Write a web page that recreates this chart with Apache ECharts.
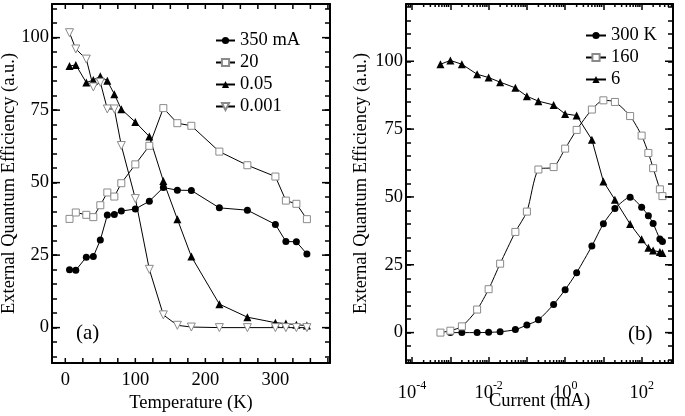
<!DOCTYPE html>
<html><head><meta charset="utf-8">
<script src="https://cdn.jsdelivr.net/npm/echarts@6/dist/echarts.min.js"></script>
<style>html,body{margin:0;padding:0;background:#fff}#c{width:685px;height:416px}</style>
</head><body><div id="c"></div>
<script>
// ---- Panel (a): EQE vs temperature ----
const temperature = [6, 15, 30, 40, 50, 60, 70, 80, 100, 120, 140, 160, 180, 220, 260, 300, 315, 330, 345];
const eqe350mA = [20.0, 19.8, 24.3, 24.5, 30.2, 38.8, 39.0, 40.2, 40.9, 43.6, 48.3, 47.4, 47.3, 41.3, 40.5, 35.6, 29.7, 29.6, 25.4];
const eqe20mA = [37.5, 39.7, 38.9, 38.1, 42.2, 46.6, 45.2, 49.8, 56.3, 62.7, 75.7, 70.5, 69.6, 60.7, 56.0, 52.1, 43.8, 42.7, 37.4];
const eqe005mA = [90.2, 90.6, 84.5, 85.4, 86.7, 85.1, 80.5, 75.3, 70.9, 65.9, 50.6, 37.4, 24.5, 8.1, 3.6, 1.7, 1.4, 1.0, 0.7];
const eqe0001mA = [101.7, 96.1, 92.6, 83.0, 84.6, 75.4, 75.4, 62.8, 44.5, 20.1, 4.4, 0.8, 0.2, 0, 0, 0, 0, 0, 0];
const seriesNamesA = ['350 mA', '20', '0.05', '0.001'];

// ---- Panel (b): EQE vs current ----
const currents = [0.00055, 0.001, 0.002, 0.005, 0.01, 0.02, 0.05, 0.1, 0.2, 0.5, 1, 2, 5, 10, 20, 50, 100, 150, 200, 300, 350];
const eqe300K = [0, 0, 0, 0.1, 0.3, 1.1, 2.8, 4.7, 10.4, 15.8, 22.1, 31.9, 40.1, 45.7, 49.9, 46.2, 43.1, 40.2, 34.5, 33.6]; // starts at currents[1]
const eqe160K = [0, 0.7, 2.3, 8.5, 16.0, 25.4, 37.1, 44.6, 60.1, 61.0, 67.8, 74.7, 82.2, 85.6, 85.0, 79.8, 72.6, 66.2, 60.6, 52.8, 50.3];
const eqe6K = [98.9, 100.3, 98.9, 95.2, 94.0, 92.3, 90.2, 87.1, 85.3, 83.9, 80.6, 80.0, 71.1, 55.7, 49.0, 40.0, 34.4, 31.3, 30.3, 29.7, 29.3];
const seriesNamesB = ['300 K', '160', '6'];

// ---- tick positions ----
const tempTicks = [0, 25, 50, 75, 100, 125, 150, 175, 200, 225, 250, 275, 300, 325, 350, 375];
const eqeMajorTicks = [0, 25, 50, 75, 100];
const logMinorTicks = [];
for (let k = -5; k <= 2; k++) for (let m = 2; m <= 9; m++) logMinorTicks.push(m * Math.pow(10, k));

const FONT = '"Liberation Serif", "Times New Roman", Times, "DejaVu Serif", serif';
const LOGMIN = Math.pow(10, -4.16), LOGMAX = Math.pow(10, 2.82);

function pair(xs, ys) { return ys.map((v, i) => [xs[i], v]); }

function vTicks(len) {
  return function (params, api) {
    const cs = params.coordSys;
    const x = api.coord([api.value(0), api.value(1)])[0];
    if (x < cs.x + 1 || x > cs.x + cs.width - 1) return null;
    const b = cs.y + cs.height;
    return { type: 'group', children: [
      { type: 'line', shape: { x1: x, y1: b, x2: x, y2: b - len }, style: { stroke: '#000', lineWidth: 1.5 } },
      { type: 'line', shape: { x1: x, y1: cs.y, x2: x, y2: cs.y + len }, style: { stroke: '#000', lineWidth: 1.5 } }
    ] };
  };
}
function hTicks(len) {
  return function (params, api) {
    const cs = params.coordSys;
    const y = api.coord([api.value(0), api.value(1)])[1];
    const r = cs.x + cs.width;
    return { type: 'group', children: [
      { type: 'line', shape: { x1: cs.x, y1: y, x2: cs.x + len, y2: y }, style: { stroke: '#000', lineWidth: 1.5 } },
      { type: 'line', shape: { x1: r, y1: y, x2: r - len, y2: y }, style: { stroke: '#000', lineWidth: 1.5 } }
    ] };
  };
}

const frameLine = { show: true, onZero: false, lineStyle: { color: '#000', width: 2 } };
const lbl = { fontFamily: FONT, fontSize: 18.5, color: '#000' };
const titleStyle = { fontFamily: FONT, fontSize: 18.5, color: '#000' };

function yAxisDef(grid, min, max, pos, showLabels, name) {
  return {
    type: 'value', gridIndex: grid, min: min, max: max, splitNumber: 25, position: pos,
    axisLine: frameLine,
    axisTick: { show: true, inside: true, length: 5, lineStyle: { color: '#000', width: 1.5 } },
    splitLine: { show: false },
    axisLabel: showLabels ? Object.assign({ margin: 3, formatter: v => (Math.abs(v % 25) < 1e-6 ? String(Math.round(v)) : '') }, lbl) : { show: false },
    name: name || '', nameLocation: 'middle', nameGap: grid === 0 ? 33 : 35, nameMoveOverlap: false,
    nameTextStyle: titleStyle
  };
}

const lineBase = { type: 'line', lineStyle: { color: '#000', width: 1 }, emphasis: { disabled: true }, z: 3 };
const closed = { color: '#000' };
const open = { color: '#fff', borderColor: '#8a8a8a', borderWidth: 1 };

const option = {
  animation: false,
  backgroundColor: '#fff',
  textStyle: { fontFamily: FONT },
  grid: [
    { left: 52, top: 4, width: 278, height: 359, containLabel: false, outerBoundsMode: 'none' },
    { left: 406, top: 4, width: 267, height: 359, containLabel: false, outerBoundsMode: 'none' }
  ],
  xAxis: [
    { type: 'value', gridIndex: 0, min: -19, max: 378, splitNumber: 4, position: 'bottom',
      axisLine: frameLine, axisTick: { show: false }, splitLine: { show: false },
      axisLabel: Object.assign({ margin: 8, formatter: v => (Math.abs(v % 100) < 1e-6 ? String(Math.round(v)) : '') }, lbl),
      name: 'Temperature (K)', nameLocation: 'middle', nameGap: 31, nameMoveOverlap: false,
      nameTextStyle: titleStyle },
    { type: 'value', gridIndex: 0, min: -19, max: 378, position: 'top',
      axisLine: frameLine, axisTick: { show: false }, splitLine: { show: false }, axisLabel: { show: false } },
    { type: 'log', gridIndex: 1, min: LOGMIN, max: LOGMAX, logBase: 10, position: 'bottom',
      axisLine: frameLine,
      axisTick: { show: true, inside: true, length: 6, lineStyle: { color: '#000', width: 1.5 } },
      splitLine: { show: false },
      axisLabel: { margin: 17, color: '#000', fontFamily: FONT,
        formatter: v => { const e = Math.log10(v); const r = Math.round(e);
          if (Math.abs(e - r) > 1e-6 || r % 2 !== 0) return ''; return '{b|10}{s|' + r + '}'; },
        rich: { b: { fontFamily: FONT, fontSize: 18.5, color: '#000' },
                s: { fontFamily: FONT, fontSize: 12, color: '#000', padding: [0, 0, 14, 0] } } },
      name: 'Current (mA)', nameLocation: 'middle', nameGap: 29, nameMoveOverlap: false,
      nameTextStyle: titleStyle },
    { type: 'log', gridIndex: 1, min: LOGMIN, max: LOGMAX, logBase: 10, position: 'top',
      axisLine: frameLine,
      axisTick: { show: true, inside: true, length: 6, lineStyle: { color: '#000', width: 1.5 } },
      splitLine: { show: false }, axisLabel: { show: false } }
  ],
  yAxis: [
    yAxisDef(0, -12.2, 111.6, 'left', true, 'External Quantum Efficiency (a.u.)'),
    yAxisDef(0, -12.2, 111.6, 'right', false),
    yAxisDef(1, -11.2, 121.1, 'left', true, 'External Quantum Efficiency (a.u.)'),
    yAxisDef(1, -11.2, 121.1, 'right', false)
  ],
  legend: [
    { data: seriesNamesA, orient: 'vertical', left: 215, top: 31, padding: 0, itemWidth: 19, itemHeight: 9, itemGap: 3,
      textStyle: { fontFamily: FONT, fontSize: 18.5, color: '#000', lineHeight: 18 }, selectedMode: false },
    { data: seriesNamesB, orient: 'vertical', left: 585, top: 26, padding: 0, itemWidth: 20, itemHeight: 9, itemGap: 3,
      textStyle: { fontFamily: FONT, fontSize: 18.5, color: '#000', lineHeight: 18 }, selectedMode: false }
  ],
  graphic: [
    { type: 'text', left: 76, top: 323, style: { text: '(a)', fontFamily: FONT, fontSize: 21, fill: '#000' } },
    { type: 'text', left: 628, top: 324, style: { text: '(b)', fontFamily: FONT, fontSize: 21, fill: '#000' } }
  ],
  series: [
    Object.assign({}, lineBase, { name: seriesNamesA[0], xAxisIndex: 0, yAxisIndex: 0, data: pair(temperature, eqe350mA), symbol: 'circle', symbolSize: 7, itemStyle: closed }),
    Object.assign({}, lineBase, { name: seriesNamesA[1], xAxisIndex: 0, yAxisIndex: 0, data: pair(temperature, eqe20mA), symbol: 'rect', symbolSize: 7, itemStyle: open }),
    Object.assign({}, lineBase, { name: seriesNamesA[2], xAxisIndex: 0, yAxisIndex: 0, data: pair(temperature, eqe005mA), symbol: 'triangle', symbolSize: 8, itemStyle: closed }),
    Object.assign({}, lineBase, { name: seriesNamesA[3], xAxisIndex: 0, yAxisIndex: 0, data: pair(temperature, eqe0001mA), symbol: 'triangle', symbolRotate: 180, symbolSize: 8, itemStyle: open }),
    Object.assign({}, lineBase, { name: seriesNamesB[0], xAxisIndex: 2, yAxisIndex: 2, data: pair(currents.slice(1), eqe300K), symbol: 'circle', symbolSize: 7, smooth: 0.25, itemStyle: closed }),
    Object.assign({}, lineBase, { name: seriesNamesB[1], xAxisIndex: 2, yAxisIndex: 2, data: pair(currents, eqe160K), symbol: 'rect', symbolSize: 7, smooth: 0.25, itemStyle: open }),
    Object.assign({}, lineBase, { name: seriesNamesB[2], xAxisIndex: 2, yAxisIndex: 2, data: pair(currents, eqe6K), symbol: 'triangle', symbolSize: 8, itemStyle: closed }),
    { type: 'custom', xAxisIndex: 0, yAxisIndex: 0, silent: true, renderItem: vTicks(5), data: tempTicks.map(t => [t, 0]), z: 5 },
    { type: 'custom', xAxisIndex: 0, yAxisIndex: 0, silent: true, renderItem: hTicks(8), data: eqeMajorTicks.map(v => [100, v]), z: 5 },
    { type: 'custom', xAxisIndex: 2, yAxisIndex: 2, silent: true, renderItem: vTicks(3), data: logMinorTicks.filter(v => v > LOGMIN && v < LOGMAX).map(v => [v, 0]), z: 5 },
    { type: 'custom', xAxisIndex: 2, yAxisIndex: 2, silent: true, renderItem: hTicks(8), data: eqeMajorTicks.map(v => [1, v]), z: 5 }
  ]
};
const chart = echarts.init(document.getElementById('c'), null, { renderer: 'canvas' });
chart.setOption(option);
</script>
</body></html>
